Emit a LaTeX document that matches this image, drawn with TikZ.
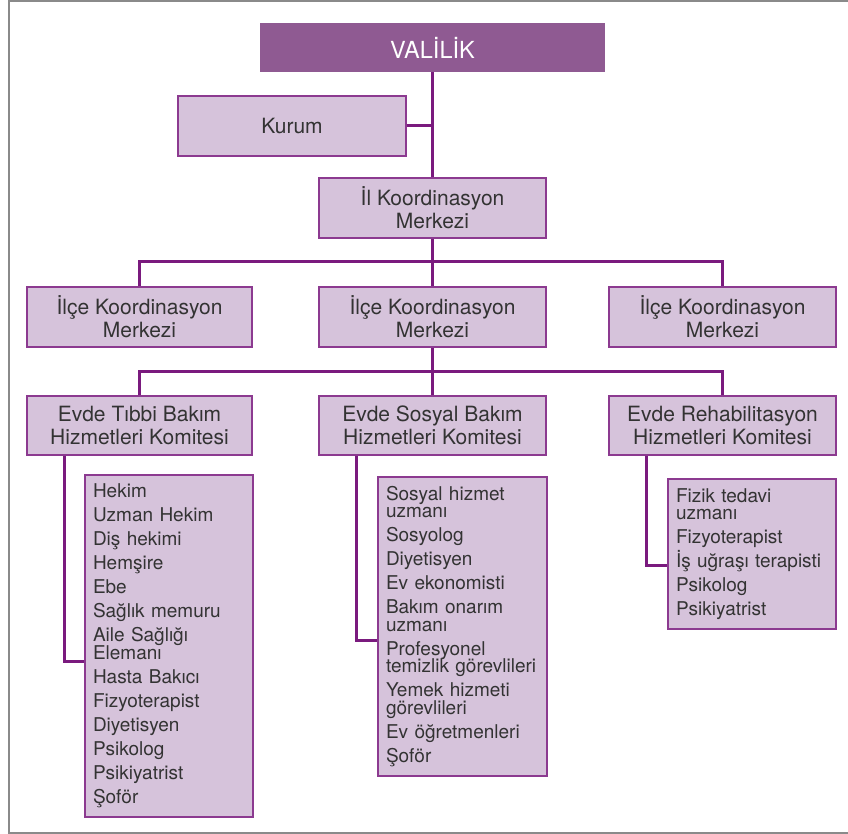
\documentclass[tikz,border=0pt]{standalone}
\usepackage{fontspec}
\setmainfont{TeX Gyre Heros}
\definecolor{boxfill}{HTML}{D6C3DB}
\definecolor{boxline}{HTML}{8C3A90}
\definecolor{conn}{HTML}{7A1A7E}
\definecolor{topfill}{HTML}{8F5A92}
\definecolor{txt}{HTML}{333333}
\definecolor{framegray}{HTML}{8A8A8A}
\newcommand\mytightlines{\lineskiplimit=-20pt\relax}
\begin{document}
\begin{tikzpicture}[x=1pt,y=-1pt,
  box/.style={draw=boxline, line width=1.4pt, fill=boxfill, text=txt, align=center,
    inner sep=0pt, font=\fontsize{21}{23}\selectfont\mytightlines},
  topbox/.style={fill=topfill, text=white, inner sep=0pt, minimum width=345pt, minimum height=49pt,
    font=\fontsize{23.5}{25}\selectfont},
  listbox/.style={draw=boxline, line width=1.4pt, fill=boxfill, text=txt, align=left,
    inner xsep=8pt, inner ysep=0pt, text width=#1, font=\fontsize{19}{17.5}\selectfont\mytightlines},
  conn/.style={draw=conn, line width=3pt, line join=miter},
  frameline/.style={draw=framegray, line width=2pt}
]
\useasboundingbox (0,0) rectangle (848,834);
\draw[frameline] (848,1.5) -- (8.5,1.5) -- (8.5,832.5) -- (848,832.5);

\node[topbox] (valilik) at (432.5,47.5) {VALİLİK};
\node[box, minimum width=228pt, minimum height=60pt] (kurum) at (292,126) {Kurum};
\node[box, minimum width=227pt, minimum height=60pt] (il) at (432.5,208) {İl Koordinasyon\\Merkezi};

\node[box, minimum width=225pt, minimum height=60pt] (ilce1) at (139.5,317) {İlçe Koordinasyon\\Merkezi};
\node[box, minimum width=227pt, minimum height=60pt] (ilce2) at (432.5,317) {İlçe Koordinasyon\\Merkezi};
\node[box, minimum width=227pt, minimum height=60pt] (ilce3) at (722.5,317) {İlçe Koordinasyon\\Merkezi};

\node[box, minimum width=225pt, minimum height=59pt] (com1) at (139.5,425.5) {Evde Tıbbi Bakım\\Hizmetleri Komitesi};
\node[box, minimum width=227pt, minimum height=59pt] (com2) at (432.5,425.5) {Evde Sosyal Bakım\\Hizmetleri Komitesi};
\node[box, minimum width=227pt, minimum height=59pt] (com3) at (722.5,425.5) {Evde Rehabilitasyon\\Hizmetleri Komitesi};

\node[listbox=152pt, minimum height=342pt] (L1) at (169,646) {Hekim\\[6.5pt]
Uzman Hekim\\[6.5pt]
Diş hekimi\\[6.5pt]
Hemşire\\[6.5pt]
Ebe\\[6.5pt]
Sağlık memuru\\[6.5pt]
Aile Sağlığı\\[0.5pt]
Elemanı\\[6pt]
Hasta Bakıcı\\[6.5pt]
Fizyoterapist\\[6.5pt]
Diyetisyen\\[6.5pt]
Psikolog\\[6.5pt]
Psikiyatrist\\[6.5pt]
Şoför};

\node[listbox=153pt, minimum height=299pt] (L2) at (462.5,626.5) {Sosyal hizmet\\
uzmanı\\[6.5pt]
Sosyolog\\[6.5pt]
Diyetisyen\\[6.5pt]
Ev ekonomisti\\[6.5pt]
Bakım onarım\\
uzmanı\\[6.5pt]
Profesyonel\\
temizlik görevlileri\\[6.5pt]
Yemek hizmeti\\
görevlileri\\[6.5pt]
Ev öğretmenleri\\[6.5pt]
Şoför};

\node[listbox=152pt, minimum height=150pt] (L3) at (752,554) {Fizik tedavi\\
uzmanı\\[6.5pt]
Fizyoterapist\\[6.5pt]
İş uğraşı terapisti\\[6.5pt]
Psikolog\\[6.5pt]
Psikiyatrist};

\coordinate (j1) at (432.5,262);
\coordinate (j2) at (432.5,371);

\draw[conn] (valilik.south) -- (il.north);
\draw[conn] (kurum.east) -- (kurum.east -| valilik.south);
\draw[conn] (il.south) -- (ilce2.north);
\draw[conn] (ilce1.north) |- (j1) -| (ilce3.north);
\draw[conn] (ilce2.south) -- (com2.north);
\draw[conn] (com1.north) |- (j2) -| (com3.north);
\draw[conn] ([xshift=38pt]com1.south west) |- ([yshift=-15pt]L1.west);
\draw[conn] ([xshift=38pt]com2.south west) |- ([yshift=-13.5pt]L2.west);
\draw[conn] ([xshift=38pt]com3.south west) |- ([yshift=-11pt]L3.west);
\end{tikzpicture}
\end{document}
